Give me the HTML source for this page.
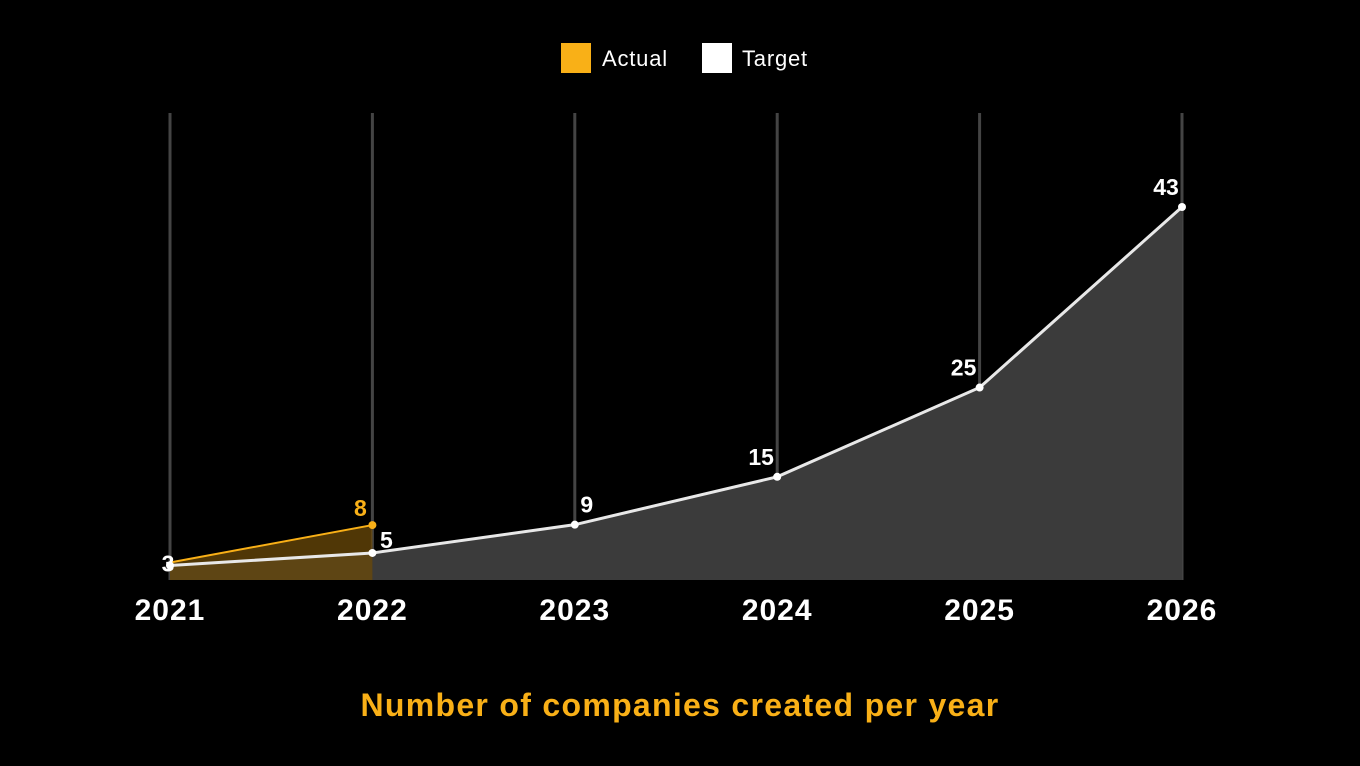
<!DOCTYPE html>
<html><head><meta charset="utf-8"><style>
html,body{margin:0;padding:0;background:#000;width:1360px;height:766px;overflow:hidden}
svg{display:block}
text{font-family:"Liberation Sans",sans-serif}
</style></head><body>
<svg id="chart" width="1360" height="766">
<g id="legend">
<rect x="561" y="43" width="30" height="30" fill="#f9b017"/>
<text x="602" y="66" fill="#fff" font-size="22" letter-spacing="0.8">Actual</text>
<rect x="702" y="43" width="30" height="30" fill="#fff"/>
<text x="742" y="66" fill="#fff" font-size="22" letter-spacing="0.8">Target</text>
</g>
<g id="grid"></g>
<g id="areas"></g>
<g id="lines"></g>
<g id="labels"></g>
<text x="680" y="716" text-anchor="middle" fill="#f9b017" font-size="32" font-weight="bold" letter-spacing="1.3">Number of companies created per year</text>
</svg>
<script>
const years = ["2021","2022","2023","2024","2025","2026"];
const target = [3,5,9,15,25,43];
const actual = [3,8];
const NS="http://www.w3.org/2000/svg";
const x0=170, dx=202.4, base=580, topY=207, vmax=43, pw=1.22;
function xs(i){return x0+i*dx;}
function ys(v){return base-(base-topY)*Math.pow(Math.max(v,0)/vmax,pw);}
function mk(tag,attrs,parent){const e=document.createElementNS(NS,tag);for(const k in attrs)e.setAttribute(k,attrs[k]);parent.appendChild(e);return e;}
const grid=document.getElementById('grid'),areas=document.getElementById('areas'),lines=document.getElementById('lines'),labels=document.getElementById('labels');
years.forEach((y,i)=>{
  const l=mk('line',{x1:xs(i),x2:xs(i),y1:113,y2:base,stroke:'#444','stroke-width':3},grid);
  
  
  const t=mk('text',{x:xs(i),y:620,'text-anchor':'middle',fill:'#fff','font-size':30,'font-weight':'bold','letter-spacing':1},labels);
  t.textContent=y;
  
  
});
let tp=target.map((v,i)=>xs(i)+','+ys(v)).join(' ');
const ta=mk('polygon',{points:xs(0)+','+base+' '+tp+' '+xs(target.length-1)+','+base,fill:'#3b3b3b'},areas);


let ap=actual.map((v,i)=>xs(i)+','+(ys(v)-(i===0?3:7))).join(' ');
const aa=mk('polygon',{points:xs(0)+','+base+' '+ap+' '+xs(actual.length-1)+','+base,fill:'#6b4a08','fill-opacity':0.75},areas);


const tl=mk('polyline',{points:tp,fill:'none',stroke:'#e8e8e8','stroke-width':3},lines);


const al=mk('polyline',{points:ap,fill:'none',stroke:'#f9b017','stroke-width':2},lines);


target.forEach((v,i)=>{
  const c=mk('circle',{cx:xs(i),cy:ys(v),r:4,fill:'#fff'},lines);
  
  
  const t=mk('text',{x:i===0?xs(i)-2:xs(i)-(i===1?-14:i===2?-12:16),y:i===0?ys(v)+6:ys(v)-(i===1?5:12),'text-anchor':'middle',fill:'#fff','font-size':23,'font-weight':'bold'},labels);
  t.textContent=v;
  
  
});
actual.forEach((v,i)=>{
  if(i===0)return;
  const c=mk('circle',{cx:xs(i),cy:ys(v)-7,r:4,fill:'#f9b017'},lines);
  
  
  const t=mk('text',{x:xs(i)-12,y:ys(v)-16,'text-anchor':'middle',fill:'#f9b017','font-size':23,'font-weight':'bold'},labels);
  t.textContent=v;
  
  
});
</script>
</body></html>
